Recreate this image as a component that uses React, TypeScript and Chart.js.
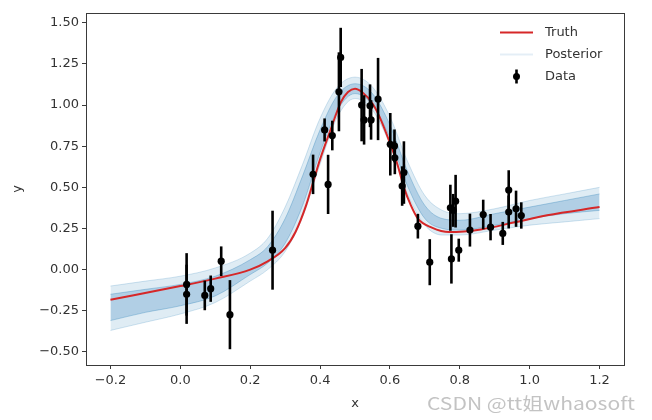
import React, { useEffect, useRef } from 'react';
import { Chart, registerables } from 'chart.js';

Chart.register(...registerables);

// ---- data ----
const dataX = [0.018, 0.018, 0.07, 0.087, 0.117, 0.142, 0.264, 0.38, 0.413, 0.423, 0.435, 0.454, 0.459, 0.519, 0.526, 0.543, 0.546, 0.566, 0.601, 0.613, 0.614, 0.64, 0.635, 0.68, 0.714, 0.773, 0.776, 0.781, 0.788, 0.797, 0.829, 0.867, 0.888, 0.923, 0.94, 0.94, 0.961, 0.976];
const dataY = [-0.09, -0.15, -0.157, -0.116, 0.051, -0.274, 0.118, 0.579, 0.849, 0.518, 0.815, 1.081, 1.29, 1.0, 0.91, 0.996, 0.91, 1.037, 0.762, 0.752, 0.68, 0.59, 0.508, 0.264, 0.045, 0.376, 0.065, 0.36, 0.416, 0.118, 0.24, 0.335, 0.258, 0.22, 0.484, 0.35, 0.37, 0.329];
const dataErr = [0.19, 0.18, 0.09, 0.08, 0.09, 0.21, 0.24, 0.12, 0.07, 0.18, 0.09, 0.24, 0.18, 0.22, 0.15, 0.13, 0.12, 0.25, 0.19, 0.1, 0.1, 0.19, 0.12, 0.075, 0.14, 0.14, 0.15, 0.1, 0.16, 0.07, 0.1, 0.09, 0.08, 0.07, 0.12, 0.1, 0.11, 0.08];

const truthX = [-0.2, 0, 0.1, 0.2, 0.25, 0.3, 0.33, 0.36, 0.38, 0.4, 0.43, 0.46, 0.48, 0.5, 0.52, 0.55, 0.57, 0.6, 0.62, 0.64, 0.66, 0.68, 0.72, 0.77, 0.86, 0.96, 1.05, 1.2];
const truthY = [-0.183, -0.1, -0.055, 0.0, 0.05, 0.13, 0.23, 0.39, 0.53, 0.67, 0.85, 1.02, 1.08, 1.1, 1.08, 1.01, 0.93, 0.77, 0.65, 0.5, 0.39, 0.31, 0.255, 0.228, 0.244, 0.289, 0.33, 0.38];

const bandX = [-0.2, -0.1, 0, 0.1, 0.2, 0.25, 0.3, 0.35, 0.4, 0.45, 0.5, 0.55, 0.6, 0.65, 0.7, 0.75, 0.8, 0.9, 1.0, 1.1, 1.2];
const outerLow = [-0.37, -0.32, -0.27, -0.2, -0.07, 0.0, 0.11, 0.32, 0.64, 0.93, 1.04, 0.97, 0.76, 0.46, 0.27, 0.21, 0.21, 0.24, 0.27, 0.29, 0.31];
const outerHigh = [-0.1, -0.07, -0.04, 0.01, 0.1, 0.19, 0.38, 0.64, 0.92, 1.11, 1.17, 1.11, 0.93, 0.66, 0.45, 0.36, 0.34, 0.37, 0.42, 0.46, 0.5];
const innerLow = [-0.31, -0.26, -0.22, -0.16, -0.03, 0.04, 0.16, 0.39, 0.71, 0.97, 1.07, 1.0, 0.8, 0.51, 0.31, 0.25, 0.24, 0.27, 0.31, 0.34, 0.36];
const innerHigh = [-0.15, -0.12, -0.09, -0.04, 0.06, 0.14, 0.31, 0.57, 0.85, 1.06, 1.13, 1.07, 0.88, 0.6, 0.39, 0.31, 0.3, 0.34, 0.38, 0.42, 0.46];

const xTicks = [-0.2, 0, 0.2, 0.4, 0.6, 0.8, 1.0, 1.2];
const yTicks = [-0.5, -0.25, 0, 0.25, 0.5, 0.75, 1.0, 1.25, 1.5];

const legendLabels = ['Truth', 'Posterior', 'Data'];
const watermark = 'CSDN @tt姐whaosoft';

const FONT = 'DejaVu Sans';
const TEXT = '#333333';
const RED = '#d62728';
const BLUE = 'rgba(31,119,180,';

const pts = (xs: number[], ys: number[]) => xs.map((x, i) => ({ x, y: ys[i] }));
const minus = (s: string) => s.replace('-', '\u2212');

const extrasPlugin = {
  id: 'extras',
  afterDatasetsDraw(chart: any) {
    const { ctx, scales } = chart;
    const xs = scales.x;
    const ys = scales.y;
    ctx.save();
    ctx.strokeStyle = '#000';
    ctx.lineWidth = 2.6;
    for (let i = 0; i < dataX.length; i++) {
      const px = xs.getPixelForValue(dataX[i]);
      ctx.beginPath();
      ctx.moveTo(px, ys.getPixelForValue(dataY[i] - dataErr[i]));
      ctx.lineTo(px, ys.getPixelForValue(dataY[i] + dataErr[i]));
      ctx.stroke();
    }
    ctx.restore();
  },
  afterDraw(chart: any) {
    const { ctx, chartArea } = chart;
    const { left, right, top, bottom } = chartArea;
    ctx.save();
    ctx.strokeStyle = '#3a3a3a';
    ctx.lineWidth = 1;
    ctx.strokeRect(Math.round(left) + 0.5, Math.round(top) + 0.5, Math.round(right - left), Math.round(bottom - top));
    ctx.fillStyle = TEXT;
    ctx.font = `13px "${FONT}"`;
    ctx.textAlign = 'center';
    ctx.textBaseline = 'middle';
    ctx.fillText('x', (left + right) / 2, 404);
    ctx.save();
    ctx.translate(18, (top + bottom) / 2);
    ctx.rotate(-Math.PI / 2);
    ctx.fillText('y', 0, 0);
    ctx.restore();
    const lx0 = right - 124;
    const lx1 = right - 91;
    const tx = right - 79;
    const rows = [top + 19.5, top + 41.5, top + 63.5];
    ctx.textAlign = 'left';
    ctx.lineWidth = 2;
    ctx.strokeStyle = RED;
    ctx.beginPath();
    ctx.moveTo(lx0, rows[0]);
    ctx.lineTo(lx1, rows[0]);
    ctx.stroke();
    ctx.strokeStyle = BLUE + '0.12)';
    ctx.beginPath();
    ctx.moveTo(lx0, rows[1]);
    ctx.lineTo(lx1, rows[1]);
    ctx.stroke();
    const mx = (lx0 + lx1) / 2;
    ctx.strokeStyle = '#000';
    ctx.lineWidth = 2.6;
    ctx.beginPath();
    ctx.moveTo(mx, rows[2] - 7);
    ctx.lineTo(mx, rows[2] + 7);
    ctx.stroke();
    ctx.fillStyle = '#000';
    ctx.beginPath();
    ctx.arc(mx, rows[2], 3.5, 0, Math.PI * 2);
    ctx.fill();
    ctx.fillStyle = TEXT;
    legendLabels.forEach((t, i) => ctx.fillText(t, tx, rows[i]));
    // watermark
    ctx.fillStyle = 'rgba(175,175,175,0.75)';
    ctx.font = '17px "Noto Sans CJK SC"';
    ctx.textAlign = 'left';
    const w = ctx.measureText(watermark).width;
    ctx.translate(427, 404);
    ctx.scale(208 / w, 1);
    ctx.fillText(watermark, 0, 0);
    ctx.restore();
  },
};

export default function App() {
  const ref = useRef<HTMLCanvasElement | null>(null);
  useEffect(() => {
    if (!ref.current) return;
    const line = (ys: number[], border: string, fill: any, bg?: string) => ({
      data: pts(bandX, ys),
      borderColor: border,
      borderWidth: 1,
      pointRadius: 0,
      cubicInterpolationMode: 'monotone',
      backgroundColor: bg,
      fill,
    });
    const chart = new Chart(ref.current, {
      type: 'line',
      data: {
        datasets: [
          {
            type: 'scatter',
            data: pts(dataX, dataY),
            pointRadius: 3.6,
            pointBackgroundColor: '#000',
            pointBorderColor: '#000',
            pointBorderWidth: 0,
            showLine: false,
          } as any,
          {
            data: pts(truthX, truthY),
            borderColor: RED,
            borderWidth: 2,
            pointRadius: 0,
            cubicInterpolationMode: 'monotone',
            fill: false,
          },
          line(innerHigh, BLUE + '0.3)', '+1', BLUE + '0.24)'),
          line(innerLow, BLUE + '0.3)', false),
          line(outerHigh, BLUE + '0.2)', '+1', BLUE + '0.14)'),
          line(outerLow, BLUE + '0.2)', false),
        ],
      },
      options: {
        animation: false,
        responsive: false,
        events: [],
        layout: { padding: { left: 0, right: 28, top: 13, bottom: 0 } },
        plugins: { legend: { display: false }, tooltip: { enabled: false }, filler: { propagate: false } },
        scales: {
          x: {
            type: 'linear',
            min: -0.27,
            max: 1.27,
            afterBuildTicks: (s: any) => { s.ticks = xTicks.map((v) => ({ value: v })); },
            afterFit: (s: any) => { s.height = 55; },
            grid: { drawOnChartArea: false, drawTicks: true, tickLength: 4, color: '#3a3a3a' },
            border: { display: false },
            ticks: {
              padding: 4,
              color: TEXT,
              font: { family: FONT, size: 13 },
              maxRotation: 0,
              callback: (v: any) => minus(Number(v).toFixed(1)),
            },
          },
          y: {
            type: 'linear',
            min: -0.58,
            max: 1.56,
            afterBuildTicks: (s: any) => { s.ticks = yTicks.map((v) => ({ value: v })); },
            afterFit: (s: any) => { s.width = 86; },
            grid: { drawOnChartArea: false, drawTicks: true, tickLength: 4, color: '#3a3a3a' },
            border: { display: false },
            ticks: {
              padding: 3,
              color: TEXT,
              font: { family: FONT, size: 13 },
              callback: (v: any) => minus(Number(v).toFixed(2)),
            },
          },
        },
      },
      plugins: [extrasPlugin],
    } as any);
    return () => chart.destroy();
  }, []);
  return (
    <div style={{ position: 'fixed', left: 0, top: 0, width: 652, height: 420, background: '#fff' }}>
      <canvas ref={ref} width={652} height={420} style={{ width: 652, height: 420, display: 'block' }} />
    </div>
  );
}
